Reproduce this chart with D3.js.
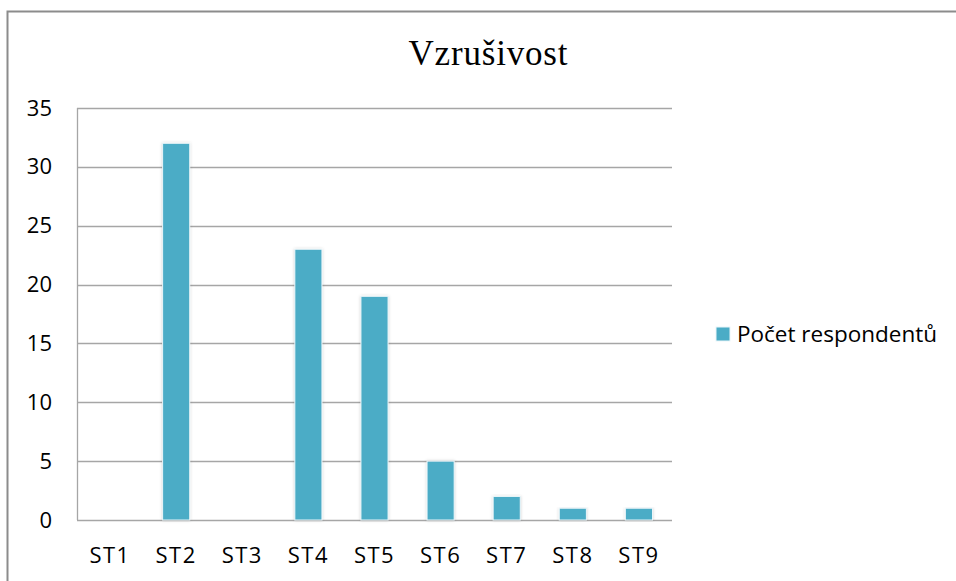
<!DOCTYPE html>
<html>
<head>
<meta charset="utf-8">
<script src="https://cdn.jsdelivr.net/npm/d3@7"></script>
<style>
  body { margin: 0; background: #fff; }
  svg text { fill: #000; }
</style>
</head>
<body>
<div id="chart"></div>
<script>
// chart data
const categories = ["ST1", "ST2", "ST3", "ST4", "ST5", "ST6", "ST7", "ST8", "ST9"];
const values = [0, 32, 0, 23, 19, 5, 2, 1, 1];
const yTicks = [0, 5, 10, 15, 20, 25, 30, 35];
const seriesName = "Počet respondentů";
const title = "Vzrušivost";

const width = 956;
const height = 581;
const margin = { left: 77, right: 284, top: 108, bottom: 61 };
const barColor = "#4bacc6";
const gridColor = "#a6a6a6";
const labelFont = "'Open Sans', sans-serif";

const svg = d3
  .select("#chart")
  .append("svg")
  .attr("width", width)
  .attr("height", height);

const defs = svg.append("defs");
const shadow = defs.append("filter").attr("id", "glow")
  .attr("x", "-30%").attr("y", "-10%").attr("width", "160%").attr("height", "120%");
shadow.append("feGaussianBlur").attr("in", "SourceAlpha").attr("stdDeviation", 1.6).attr("result", "b");
shadow.append("feFlood").attr("flood-color", "#000").attr("flood-opacity", 0.18);
shadow.append("feComposite").attr("in2", "b").attr("operator", "in").attr("result", "s");
const merge = shadow.append("feMerge");
merge.append("feMergeNode").attr("in", "s");
merge.append("feMergeNode").attr("in", "SourceGraphic");

// outer frame (only top and left edges are visible)
svg.append("path")
  .attr("d", `M7.5,${height} V11.5 H${width}`)
  .attr("fill", "none")
  .attr("stroke", "#8c8c8c")
  .attr("stroke-width", 2);

const x = d3
  .scaleBand()
  .domain(categories)
  .range([margin.left, width - margin.right])
  .paddingInner(0.59)
  .paddingOuter(0.295);

const y = d3
  .scaleLinear()
  .domain([0, 35])
  .range([height - margin.bottom, margin.top]);

// gridlines
svg.append("g")
  .selectAll("line")
  .data(yTicks)
  .join("line")
  .attr("x1", margin.left)
  .attr("x2", width - margin.right)
  .attr("y1", (d) => Math.round(y(d)) + 0.5)
  .attr("y2", (d) => Math.round(y(d)) + 0.5)
  .attr("stroke", gridColor)
  .attr("stroke-width", 1.3);

// vertical axis line
svg.append("line")
  .attr("x1", margin.left + 0.5)
  .attr("x2", margin.left + 0.5)
  .attr("y1", y(35))
  .attr("y2", y(0))
  .attr("stroke", gridColor)
  .attr("stroke-width", 1.3);

// y labels
const yAxis = svg.append("g")
  .attr("transform", `translate(${margin.left},0)`)
  .call(d3.axisLeft(y).tickValues(yTicks).tickSize(0).tickPadding(25));
yAxis.select(".domain").remove();
yAxis.selectAll("text")
  .attr("font-family", labelFont)
  .attr("font-size", 22)
  .attr("fill", "#000");

// bars
svg.append("g")
  .selectAll("rect")
  .data(values.map((v, i) => ({ cat: categories[i], v })))
  .join("rect")
  .filter((d) => d.v > 0)
  .attr("x", (d) => x(d.cat))
  .attr("y", (d) => y(d.v))
  .attr("width", x.bandwidth())
  .attr("height", (d) => y(0) - y(d.v))
  .attr("fill", barColor)
  .attr("stroke", "#eaf5f9")
  .attr("stroke-width", 1)
  .attr("filter", "url(#glow)");

// x labels
const xAxis = svg.append("g")
  .attr("transform", `translate(0,${y(0)})`)
  .call(d3.axisBottom(x).tickSize(0).tickPadding(27));
xAxis.select(".domain").remove();
xAxis.selectAll("text")
  .attr("font-family", labelFont)
  .attr("font-size", 22)
  .attr("letter-spacing", 1.5)
  .attr("fill", "#000");

// title
svg.append("text")
  .attr("x", 488)
  .attr("y", 65)
  .attr("text-anchor", "middle")
  .attr("font-family", "'Liberation Serif', serif")
  .attr("font-size", 35)
  .attr("textLength", 159)
  .attr("lengthAdjust", "spacing")
  .text(title);

// legend
const legend = svg.append("g").attr("transform", "translate(716,327)");
legend.append("rect")
  .attr("width", 14)
  .attr("height", 14)
  .attr("fill", barColor)
  .attr("stroke", "#eaf5f9");
legend.append("text")
  .attr("x", 21)
  .attr("y", 15)
  .attr("font-family", labelFont)
  .attr("font-size", 22.5)
  .text(seriesName);
</script>
</body>
</html>
